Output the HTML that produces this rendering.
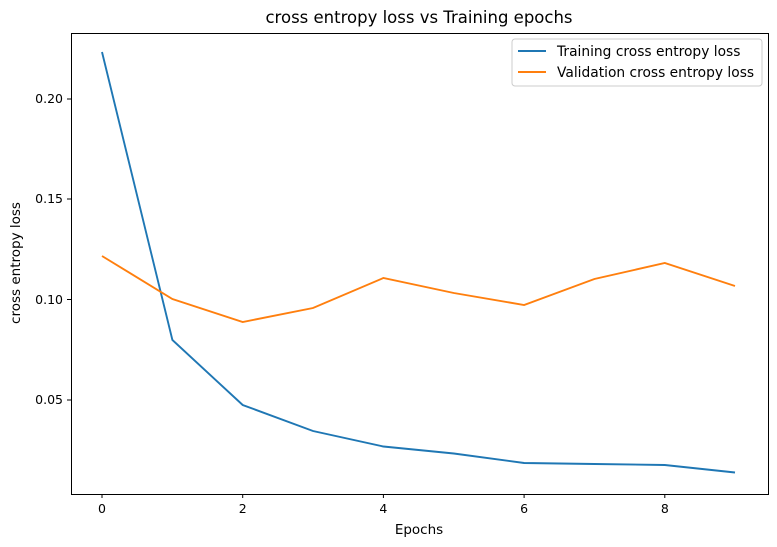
<!DOCTYPE html>
<html><head><style>body{margin:0;background:#fff}svg{display:block}text{font-family:"DejaVu Sans","Liberation Sans",sans-serif;fill:#000}</style></head><body>
<svg width="777" height="547" viewBox="0 0 777 547">
<rect width="777" height="547" fill="#fff"/>
<text x="419" y="23" font-size="16.5" text-anchor="middle">cross entropy loss vs Training epochs</text>
<g stroke="#000" stroke-width="1">
<line x1="102" y1="494" x2="102" y2="498"/><line x1="242.7" y1="494" x2="242.7" y2="498"/><line x1="383.4" y1="494" x2="383.4" y2="498"/><line x1="524.1" y1="494" x2="524.1" y2="498"/><line x1="664.8" y1="494" x2="664.8" y2="498"/>
<line x1="67" y1="99" x2="71" y2="99"/><line x1="67" y1="199" x2="71" y2="199"/><line x1="67" y1="299.5" x2="71" y2="299.5"/><line x1="67" y1="400" x2="71" y2="400"/>
</g>
<g font-size="12.5" text-anchor="middle">
<text x="102" y="513">0</text><text x="242.7" y="513">2</text><text x="383.4" y="513">4</text><text x="524.1" y="513">6</text><text x="664.8" y="513">8</text>
</g>
<g font-size="12.5" text-anchor="end">
<text x="63" y="103">0.20</text><text x="63" y="203">0.15</text><text x="63" y="304">0.10</text><text x="63" y="404">0.05</text>
</g>
<text x="419" y="534" font-size="13.5" text-anchor="middle">Epochs</text>
<text transform="translate(20,263) rotate(-90)" font-size="13.5" text-anchor="middle">cross entropy loss</text>
<polyline fill="none" stroke="#1f77b4" stroke-width="1.9" points="102,52 172.4,340 242.7,405 313,431 383.4,446.5 453.8,453.5 524.1,463 594.4,464 664.8,465 735,472.5"/>
<polyline fill="none" stroke="#ff7f0e" stroke-width="1.9" points="102,256 172.4,299 242.7,322 313,308 383.4,278 453.8,293 524.1,305 594.4,279 664.8,263 735,286"/>
<rect x="71.5" y="33.5" width="697" height="461" fill="none" stroke="#000" stroke-width="1"/>
<rect x="512" y="39" width="250" height="47" rx="3" fill="#fff" fill-opacity="0.8" stroke="#ccc"/>
<line x1="518" y1="51" x2="546" y2="51" stroke="#1f77b4" stroke-width="1.9"/>
<line x1="518" y1="72" x2="546" y2="72" stroke="#ff7f0e" stroke-width="1.9"/>
<text x="557" y="56" font-size="13.8">Training cross entropy loss</text>
<text x="557" y="77" font-size="13.8">Validation cross entropy loss</text>
</svg>
</body></html>
